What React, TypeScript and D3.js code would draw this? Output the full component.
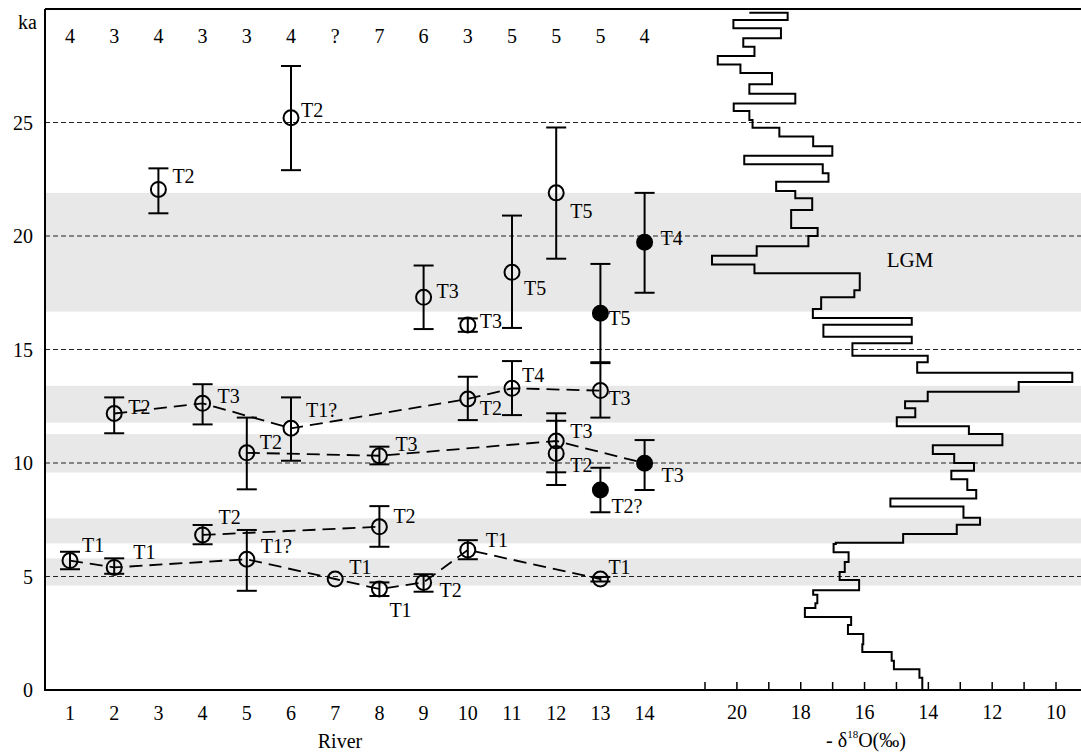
import React from 'react';
import * as d3 from 'd3';

const W = 1081;
const H = 752;

// river numbers along the bottom and the counts printed across the top
const rivers = [1, 2, 3, 4, 5, 6, 7, 8, 9, 10, 11, 12, 13, 14];
const sampleCounts = ['4', '3', '4', '3', '3', '4', '?', '7', '6', '3', '5', '5', '5', '4'];

// terrace ages (ka) with error ranges
const terraceRiver = [1, 2, 2, 3, 4, 4, 5, 5, 6, 6, 7, 8, 8, 8, 9, 9, 10, 10, 10, 11, 11, 12, 12, 12, 13, 13, 13, 13, 14, 14];
const terraceAge = [5.7, 5.4, 12.18, 22.05, 12.63, 6.83, 10.45, 5.76, 25.21, 11.53, 4.89, 10.32, 7.19, 4.45, 17.3, 4.74, 16.08, 12.82, 6.17, 18.4, 13.29, 21.9, 10.97, 10.42, 16.6, 13.19, 8.81, 4.89, 19.72, 9.99];
const terraceLow = [5.32, 5.12, 11.31, 21.0, 11.7, 6.42, 8.84, 4.37, 22.9, 10.1, 4.89, 9.94, 6.31, 4.14, 15.9, 4.33, 15.78, 11.89, 5.76, 15.95, 12.11, 19.0, 9.59, 9.03, 14.44, 12.0, 7.83, 4.78, 17.5, 8.81];
const terraceHigh = [6.09, 5.8, 12.89, 22.98, 13.47, 7.27, 12.0, 7.05, 27.49, 12.89, 4.89, 10.72, 8.1, 4.74, 18.7, 5.1, 16.37, 13.8, 6.6, 20.9, 14.49, 24.78, 12.19, 11.86, 18.77, 14.4, 9.79, 4.98, 21.9, 11.01];
const terraceName = ['T1', 'T1', 'T2', 'T2', 'T3', 'T2', 'T2', 'T1?', 'T2', 'T1?', 'T1', 'T3', 'T2', 'T1', 'T3', 'T2', 'T3', 'T2', 'T1', 'T5', 'T4', 'T5', 'T3', 'T2', 'T5', 'T3', 'T2?', 'T1', 'T4', 'T3'];
const terraceFilled = [0, 0, 0, 0, 0, 0, 0, 0, 0, 0, 0, 0, 0, 0, 0, 0, 0, 0, 0, 0, 0, 0, 0, 0, 1, 0, 1, 0, 1, 1];

// correlated terraces joined by dashed lines (indices into the arrays above)
const connectors = [
  [2, 4, 9, 17, 20, 25],
  [6, 11, 22, 29],
  [5, 12],
  [0, 1, 7, 10, 13, 15, 18, 27],
];

// shaded periods (ka)
const bands = [[4.6, 5.8], [6.46, 7.56], [9.58, 11.27], [11.78, 13.4], [16.67, 21.9]];
const gridAges = [5, 10, 15, 20, 25];
const ageTicks = [0, 5, 10, 15, 20, 25];
const d18oTickLabels = [20, 18, 16, 14, 12, 10];
const d18oMinorTicks = [21, 20, 19, 18, 17, 16, 15, 14, 13, 12, 11, 10];

// -δ18O step record: value held from each age to the next
const d18oAges = [0, 0.54, 0.91, 1.29, 1.67, 2.01, 2.47, 2.86, 3.22, 3.61, 3.82, 4.2, 4.39, 4.85, 5.2, 5.64, 6.07, 6.43, 6.49, 6.87, 7.28, 7.59, 8.08, 8.44, 8.81, 9.28, 9.66, 10.0, 10.4, 10.78, 11.28, 11.62, 12.01, 12.41, 12.72, 13.14, 13.57, 13.98, 14.44, 14.73, 15.27, 15.56, 16.09, 16.39, 16.78, 17.3, 17.61, 18.36, 18.75, 19.13, 19.55, 20.0, 20.35, 21.15, 21.66, 21.98, 22.39, 22.76, 23.16, 23.54, 23.95, 24.38, 24.77, 25.11, 25.51, 25.84, 26.27, 26.68, 27.18, 27.56, 27.93, 28.34, 28.71, 29.15, 29.52, 29.84];
const d18oValues = [14.19, 14.28, 15.08, 15.15, 16.07, 16.04, 16.52, 16.42, 17.87, 17.54, 17.48, 17.61, 16.17, 16.78, 16.62, 16.5, 16.97, 16.9, 14.79, 13.11, 12.38, 12.9, 15.19, 12.5, 12.78, 13.28, 12.57, 13.19, 13.86, 11.68, 12.73, 14.99, 14.41, 14.73, 14.02, 11.17, 9.49, 14.35, 14.02, 16.38, 14.52, 17.29, 14.52, 17.62, 17.36, 16.32, 16.15, 19.45, 20.78, 19.38, 17.76, 17.47, 18.3, 17.64, 18.17, 18.77, 17.13, 17.31, 19.77, 17.01, 17.61, 18.67, 19.51, 19.61, 20.1, 18.17, 19.61, 18.9, 19.89, 20.6, 19.45, 19.8, 18.62, 20.11, 18.41, 19.61];

// label placement next to each circle (dx, dy of text centre)
const labelOffsets = [
  [12, -16], [19, -15], [14, -7], [14, -13], [15, -7], [16, -18], [13, -11], [14, -13],
  [10, -8], [15, -18], [14, -12], [16, -12], [14, -11], [10, 21], [13, -6], [16, 8],
  [12, -4], [12, 9], [18, -10], [12, 16], [10, -13], [14, 18], [14, -10], [14, 12],
  [8, 5], [8, 7], [11, 16], [8, -12], [16, -4], [17, 12],
];

const FONT = '"Liberation Serif", "Times New Roman", serif';

export default function App() {
  const x = d3.scaleLinear().domain([1, 14]).range([70, 644.6]);
  const y = d3.scaleLinear().domain([0, 30]).range([690, 9]);
  const xo = d3.scaleLinear().domain([21, 10]).range([705, 1056]);

  const left = 45;
  const right = W;

  const stepPath = d3
    .line<number>()
    .x((_, i) => xo(d18oValues[i]))
    .y(a => y(a))
    .curve(d3.curveStepBefore)(d18oAges);

  const joinLine = d3
    .line<number>()
    .x(i => x(terraceRiver[i]))
    .y(i => y(terraceAge[i]));

  return (
    <div style={{position: 'absolute', left: 0, top: 0}}>
      <svg width={W} height={H} style={{display: 'block', background: '#fff'}} fontFamily={FONT}>
        {/* shaded periods */}
        {bands.map((b, i) => (
          <rect key={i} x={left} y={y(b[1])} width={right - left} height={y(b[0]) - y(b[1])} fill="#e8e8e8" />
        ))}
        {/* dashed reference ages */}
        {gridAges.map(a => (
          <line key={a} x1={left} x2={right} y1={y(a)} y2={y(a)} stroke="#222" strokeWidth={1.2} strokeDasharray="5,3" />
        ))}

        <text x={910} y={260} fontSize={21} textAnchor="middle" dominantBaseline="central">LGM</text>

        {/* δ18O curve */}
        <path d={stepPath || ''} fill="none" stroke="#000" strokeWidth={2} />

        {/* frame */}
        <line x1={left} x2={right} y1={9} y2={9} stroke="#000" strokeWidth={2} />
        <line x1={left} x2={left} y1={9} y2={691} stroke="#000" strokeWidth={2} />
        <line x1={left - 1} x2={right} y1={690} y2={690} stroke="#000" strokeWidth={2} />

        {/* age axis */}
        <text x={18} y={22} fontSize={20} dominantBaseline="central">ka</text>
        {ageTicks.map(t => (
          <text key={t} x={33} y={y(t)} fontSize={20} textAnchor="end" dominantBaseline="central">{t}</text>
        ))}

        {/* river axis */}
        {rivers.map((r, i) => (
          <g key={r}>
            <text x={x(r)} y={713} fontSize={20} textAnchor="middle" dominantBaseline="central">{r}</text>
            <text x={x(r)} y={36} fontSize={20} textAnchor="middle" dominantBaseline="central">{sampleCounts[i]}</text>
          </g>
        ))}
        <text x={340} y={741} fontSize={20} textAnchor="middle" dominantBaseline="central">River</text>

        {/* δ18O axis */}
        {d18oMinorTicks.map(t => (
          <line key={t} x1={xo(t)} x2={xo(t)} y1={682} y2={690} stroke="#000" strokeWidth={1.5} />
        ))}
        {d18oTickLabels.map(t => (
          <text key={t} x={xo(t)} y={712} fontSize={20} textAnchor="middle" dominantBaseline="central">{t}</text>
        ))}
        <text x={866} y={747} fontSize={20} textAnchor="middle">
          <tspan>- δ</tspan>
          <tspan fontSize={11} dy={-9}>18</tspan>
          <tspan dy={9}>O(‰)</tspan>
        </text>

        {/* correlation lines */}
        {connectors.map((c, i) => (
          <path key={i} d={joinLine(c) || ''} fill="none" stroke="#000" strokeWidth={1.8} strokeDasharray="13,7" />
        ))}

        {/* terrace dates */}
        {terraceAge.map((a, i) => {
          const cx = x(terraceRiver[i]);
          const cy = y(a);
          const lo = y(terraceLow[i]);
          const hi = y(terraceHigh[i]);
          const hasBar = terraceHigh[i] - terraceLow[i] > 0.01;
          return (
            <g key={i}>
              {hasBar && (
                <g stroke="#000" strokeWidth={2}>
                  <line x1={cx} x2={cx} y1={hi} y2={lo} />
                  <line x1={cx - 10} x2={cx + 10} y1={hi} y2={hi} />
                  <line x1={cx - 10} x2={cx + 10} y1={lo} y2={lo} />
                </g>
              )}
              <circle cx={cx} cy={cy} r={7.5} fill={terraceFilled[i] ? '#000' : 'none'} stroke="#000" strokeWidth={2} />
              <text
                x={cx + labelOffsets[i][0]}
                y={cy + labelOffsets[i][1]}
                fontSize={20}
                dominantBaseline="central"
              >
                {terraceName[i]}
              </text>
            </g>
          );
        })}
      </svg>
    </div>
  );
}
